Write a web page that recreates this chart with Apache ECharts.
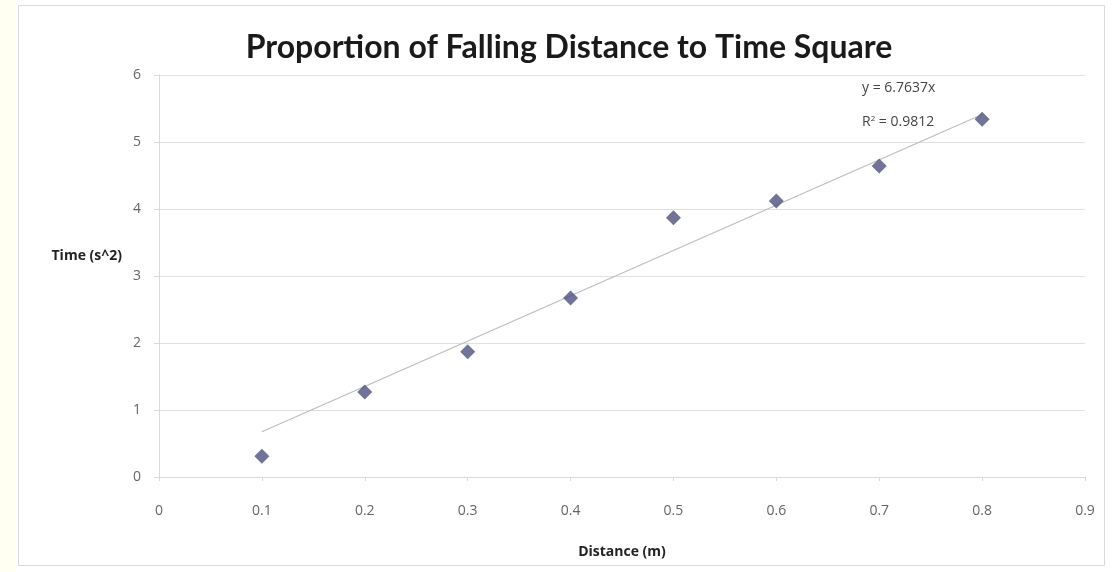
<!DOCTYPE html>
<html><head><meta charset="utf-8">
<script src="https://cdn.jsdelivr.net/npm/echarts@6/dist/echarts.min.js"></script>
<style>html,body{margin:0;padding:0;background:#fff;}#c{width:1113px;height:572px;}</style>
</head><body><div id="c"></div>
<script>
const distances = [0.1, 0.2, 0.3, 0.4, 0.5, 0.6, 0.7, 0.8];
const timesSq = [0.31, 1.27, 1.87, 2.67, 3.87, 4.12, 4.64, 5.34];
const trendSlope = 6.7637;
const trendR2 = 0.9812;
const trendRange = [0.1, 0.8];
const xTicks = [0, 0.1, 0.2, 0.3, 0.4, 0.5, 0.6, 0.7, 0.8, 0.9];
const yTicks = [0, 1, 2, 3, 4, 5, 6];

const chart = echarts.init(document.getElementById('c'));
const font = '"Open Sans", Lato, sans-serif';
chart.setOption({
  backgroundColor: '#fff',
  animation: false,
  title: {
    text: 'Proportion of Falling Distance to Time Square',
    left: 564, top: 27, textAlign: 'center',
    textStyle: {fontFamily: 'Lato, sans-serif', fontWeight: 'bold', fontSize: 32, color: '#1a1a1a'}
  },
  graphic: [
    {type: 'rect', shape: {x: 0, y: 0, width: 16, height: 572}, style: {fill: '#fffff2'}, silent: true},
    {type: 'rect', shape: {x: 18.5, y: 5.5, width: 1086, height: 560}, style: {fill: 'none', stroke: '#d9d9d9', lineWidth: 1}, silent: true},
    {type: 'text', left: 862, top: 81, style: {text: 'y = ' + trendSlope + 'x', fontFamily: font, fontSize: 14, fill: '#444'}},
    {type: 'text', left: 862, top: 115, style: {rich: {s: {fontSize: 8, verticalAlign: 'top', padding: [0,0,7,0], fontFamily: font, fill: '#444'}}, text: 'R{s|2} = ' + trendR2, fontFamily: font, fontSize: 14, fill: '#444'}}
  ],
  grid: {left: 159, right: 28, top: 75, bottom: 95},
  xAxis: {
    type: 'value', min: 0, max: 0.9, interval: 0.1,
    name: 'Distance (m)', nameLocation: 'middle', nameGap: 68,
    nameTextStyle: {fontFamily: font, fontWeight: 'bold', fontSize: 14, color: '#222'},
    axisLine: {show: true, lineStyle: {color: '#d9d9d9'}},
    axisTick: {show: true, length: 4, lineStyle: {color: '#d9d9d9'}},
    splitLine: {show: false},
    axisLabel: {margin: 27, fontFamily: font, fontSize: 14, color: '#666',
      formatter: v => { const t = xTicks.find(x => Math.abs(x - v) < 1e-9); return t === undefined ? '' : String(t); }}
  },
  yAxis: {
    type: 'value', min: 0, max: 6, interval: 1,
    name: 'Time (s^2)\n\u00a0', nameLocation: 'middle', nameRotate: 0, nameGap: 37,
    nameTextStyle: {fontFamily: font, fontWeight: 'bold', fontSize: 14, color: '#222', lineHeight: 40},
    axisLine: {show: true, lineStyle: {color: '#d9d9d9'}},
    axisTick: {show: true, length: 5, lineStyle: {color: '#d9d9d9'}},
    splitLine: {show: true, lineStyle: {color: '#e0e0e0', width: 1}},
    axisLabel: {margin: 18, fontFamily: font, fontSize: 14, color: '#666',
      formatter: v => yTicks.includes(v) ? String(v) : ''}
  },
  series: [
    {
      type: 'line', data: trendRange.map(x => [x, trendSlope * x]),
      showSymbol: false, symbol: 'none',
      lineStyle: {color: '#bdbdbd', width: 1.2}, z: 2
    },
    {
      type: 'scatter', data: distances.map((d, i) => [d, timesSq[i]]),
      symbol: 'diamond', symbolSize: 15,
      itemStyle: {color: '#4f5080'}, z: 3
    }
  ]
});
</script></body></html>
